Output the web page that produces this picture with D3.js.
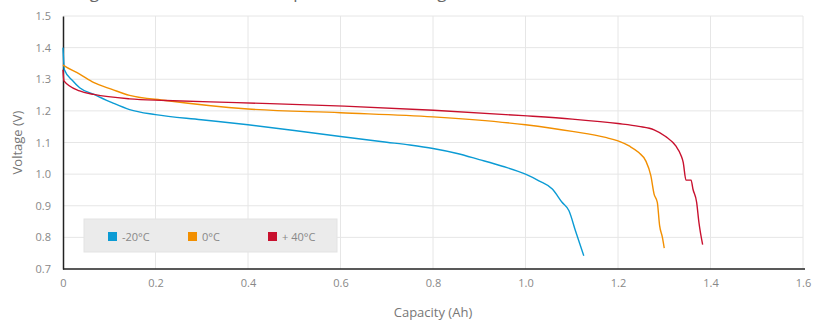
<!DOCTYPE html>
<html>
<head>
<meta charset="utf-8">
<script src="https://cdn.jsdelivr.net/npm/d3@7"></script>
<style>
  body { margin: 0; background: #fff; }
  #viewer { width: 827px; height: 320px; }
  text { font-family: "Open Sans", sans-serif; }
</style>
</head>
<body>
<div id="viewer"></div>
<script>
// capacity (Ah) / voltage (V)
const capM20 = [0, 0.003, 0.021, 0.036, 0.067, 0.106, 0.144, 0.2, 0.299, 0.4, 0.5, 0.6, 0.7, 0.75, 0.8, 0.85, 0.9, 0.95, 1.0, 1.029, 1.058, 1.079, 1.094, 1.108, 1.126];
const voltM20 = [1.40, 1.33, 1.295, 1.273, 1.252, 1.226, 1.204, 1.188, 1.172, 1.156, 1.138, 1.119, 1.101, 1.092, 1.081, 1.066, 1.046, 1.025, 1.0, 0.979, 0.953, 0.911, 0.884, 0.821, 0.742];

const cap0 = [0, 0.002, 0.036, 0.067, 0.106, 0.144, 0.222, 0.4, 0.6, 0.8, 1.0, 1.101, 1.173, 1.2, 1.224, 1.245, 1.26, 1.271, 1.278, 1.285, 1.29, 1.296, 1.30];
const volt0 = [1.345, 1.343, 1.316, 1.289, 1.268, 1.249, 1.233, 1.206, 1.194, 1.181, 1.156, 1.135, 1.116, 1.105, 1.089, 1.068, 1.042, 0.995, 0.937, 0.911, 0.837, 0.8, 0.766];

const cap40 = [0, 0.002, 0.036, 0.067, 0.144, 0.222, 0.376, 0.608, 0.801, 0.995, 1.101, 1.2, 1.245, 1.278, 1.303, 1.325, 1.336, 1.341, 1.347, 1.358, 1.362, 1.370, 1.375, 1.383];
const volt40 = [1.33, 1.295, 1.263, 1.252, 1.238, 1.233, 1.226, 1.215, 1.202, 1.185, 1.174, 1.160, 1.151, 1.140, 1.119, 1.089, 1.06, 1.037, 0.981, 0.981, 0.953, 0.911, 0.847, 0.777];

const seriesNames = ['-20°C', '0°C', '+ 40°C'];
const seriesColors = ['#0b9bd4', '#f28f00', '#c8102e'];
const xTicks = [0, 0.2, 0.4, 0.6, 0.8, 1.0, 1.2, 1.4, 1.6];
const yTicks = [0.7, 0.8, 0.9, 1.0, 1.1, 1.2, 1.3, 1.4, 1.5];
const titleText = 'Discharge curves at different temperatures, discharge at 0.2C';

const series = [
    { name: seriesNames[0], color: seriesColors[0], points: capM20.map((c, i) => [c, voltM20[i]]) },
    { name: seriesNames[1], color: seriesColors[1], points: cap0.map((c, i) => [c, volt0[i]]) },
    { name: seriesNames[2], color: seriesColors[2], points: cap40.map((c, i) => [c, volt40[i]]) }
];

const margin = { left: 63, top: 16, right: 24, bottom: 51 };
const width = 827, height = 320;
const innerW = width - margin.left - margin.right;
const innerH = height - margin.top - margin.bottom;

const svg = d3.select('#viewer').append('svg')
    .attr('width', width)
    .attr('height', height);

// title sits above the frame, only its descenders show
svg.append('text')
    .attr('x', 30).attr('y', -2)
    .attr('font-size', 17)
    .attr('fill', '#666')
    .text(titleText);

const g = svg.append('g').attr('transform', `translate(${margin.left},${margin.top})`);

const xScale = d3.scaleLinear().domain([0, 1.6]).range([0, innerW]);
const yScale = d3.scaleLinear().domain([0.7, 1.5]).range([innerH, 0]);

// grid
g.append('g').selectAll('line.v').data(xTicks.slice(1)).enter().append('line')
    .attr('x1', d => xScale(d)).attr('x2', d => xScale(d))
    .attr('y1', 0).attr('y2', innerH)
    .attr('stroke', '#e6e6e6').attr('stroke-width', 1);
g.append('g').selectAll('line.h').data(yTicks.slice(1)).enter().append('line')
    .attr('x1', 0).attr('x2', innerW)
    .attr('y1', d => yScale(d)).attr('y2', d => yScale(d))
    .attr('stroke', '#e6e6e6').attr('stroke-width', 1);

// axes
const xAxis = d3.axisBottom(xScale).tickValues(xTicks).tickSize(0).tickPadding(10)
    .tickFormat(d => d === 0 ? '0' : d3.format('.1f')(d));
const yAxis = d3.axisLeft(yScale).tickValues(yTicks).tickSize(0).tickPadding(12)
    .tickFormat(d3.format('.1f'));

const gx = g.append('g').attr('transform', `translate(0,${innerH})`).call(xAxis);
const gy = g.append('g').call(yAxis);
[gx, gy].forEach(ax => {
    ax.select('.domain').attr('stroke', '#222').attr('stroke-width', 1.5);
    ax.selectAll('text').attr('fill', '#888').attr('font-size', 11)
        .attr('font-family', '"Open Sans", sans-serif');
});
gx.select('.domain').attr('d', `M0,0H${innerW + 2}`);

// curves
const line = d3.line()
    .x(d => xScale(d[0])).y(d => yScale(d[1]))
    .curve(d3.curveMonotoneX);
series.forEach(s => {
    g.append('path')
        .datum(s.points)
        .attr('fill', 'none')
        .attr('stroke', s.color)
        .attr('stroke-width', 1.4)
        .attr('stroke-linejoin', 'round')
        .attr('d', line);
});

// axis titles
svg.append('text')
    .attr('x', margin.left + innerW / 2).attr('y', 317)
    .attr('text-anchor', 'middle')
    .attr('font-size', 13).attr('fill', '#777')
    .text('Capacity (Ah)');
svg.append('text')
    .attr('transform', `translate(22,${margin.top + innerH / 2}) rotate(-90)`)
    .attr('text-anchor', 'middle')
    .attr('font-size', 13).attr('fill', '#777')
    .text('Voltage (V)');

// legend
const legend = svg.append('g').attr('transform', 'translate(84,219)');
legend.append('rect')
    .attr('width', 253).attr('height', 33)
    .attr('fill', '#ebebeb').attr('stroke', '#e3e3e3');
const legendX = d3.scalePoint().domain(seriesNames).range([24, 184]);
series.forEach(s => {
    const item = legend.append('g').attr('transform', `translate(${legendX(s.name)},13)`);
    item.append('rect').attr('width', 9).attr('height', 9).attr('fill', s.color);
    item.append('text')
        .attr('x', 14).attr('y', 8.5)
        .attr('font-size', 11).attr('fill', '#888')
        .text(s.name);
});
</script>
</body>
</html>
